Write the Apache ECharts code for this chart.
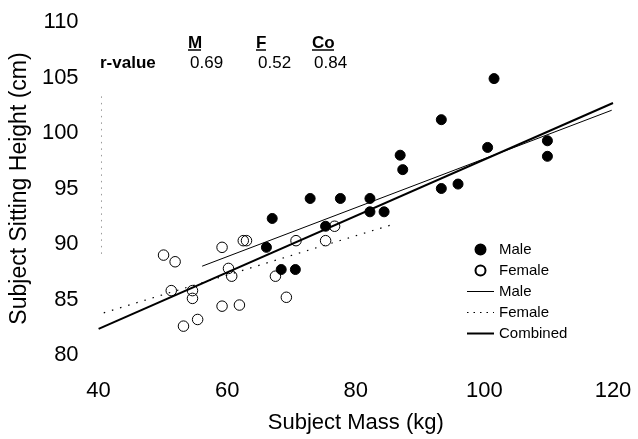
<!DOCTYPE html>
<html>
<head>
<meta charset="utf-8">
<style>
  html, body { margin: 0; padding: 0; background: #fff; }
  #chart { width: 638px; height: 439px; }
</style>
<script src="https://cdn.jsdelivr.net/npm/echarts@6/dist/echarts.min.js"></script>
</head>
<body>
<div id="chart"></div>
<script>
// ---- Data ----
const maleMass   = [67.0, 72.9, 77.6, 82.2, 82.2, 84.4, 86.9, 87.3, 93.3, 93.3, 95.9, 100.5, 101.5, 109.8, 109.8, 75.3, 66.1, 68.4, 70.6];
const maleHeight = [92.3, 94.1, 94.1, 94.1, 92.9, 92.9, 98.0, 96.7, 101.2, 95.0, 95.4, 98.7, 104.9, 99.3, 97.9, 91.6, 89.7, 87.7, 87.7];

const femaleMass   = [50.1, 51.9, 59.2, 62.5, 63.0, 60.2, 60.7, 70.7, 76.7, 75.3, 67.5, 69.2, 51.3, 54.6, 54.6, 59.2, 61.9, 55.4, 53.2];
const femaleHeight = [89.0, 88.4, 89.7, 90.3, 90.3, 87.8, 87.1, 90.3, 91.6, 90.3, 87.1, 85.2, 85.8, 85.8, 85.1, 84.4, 84.5, 83.2, 82.6];

// regression line end points [mass, height]
const maleFit     = [[56.1, 88.0], [119.8, 102.05]];
const femaleFit   = [[40.8, 83.8], [85.4, 91.7]];
const combinedFit = [[40.0, 82.35], [120.0, 102.7]];

// faint dotted vertical artifact near the y axis
const artifactLine = [[40.45, 103.3], [40.45, 89.0]];

const xTicks = { min: 40, max: 120, interval: 20 };
const yTicks = { min: 80, max: 110, interval: 5 };

const rLabels = ['M', 'F', 'Co'];
const rValues = ['0.69', '0.52', '0.84'];

const legendNames = ['Male', 'Female', 'Male\u200b', 'Female\u200b', 'Combined'];

// ---- Chart ----
const zip = (a, b) => a.map((v, i) => [v, b[i]]);
const FONT = '"Liberation Sans", Arial, sans-serif';

const chart = echarts.init(document.getElementById('chart'), null, { renderer: 'canvas' });

const rX = [188, 256, 312];     // pixel x for r-value columns
const graphics = [
  { type: 'text', x: 100, y: 55, style: { text: 'r-value', font: 'bold 17px ' + FONT, fill: '#000' } }
];
rLabels.forEach((lab, i) => {
  graphics.push({ type: 'text', x: rX[i], y: 35, style: { text: lab, font: 'bold 17px ' + FONT, fill: '#000' } });
  graphics.push({ type: 'text', x: rX[i] + 2, y: 55, style: { text: rValues[i], font: '17px ' + FONT, fill: '#000' } });
});
const ulW = [13, 10, 22];
rLabels.forEach((lab, i) => {
  graphics.push({ type: 'line', shape: { x1: rX[i], y1: 50, x2: rX[i] + ulW[i], y2: 50 }, style: { stroke: '#000', lineWidth: 1.5 } });
});

const hiddenSymbol = { opacity: 0 };

const option = {
  backgroundColor: '#fff',
  animation: false,
  grid: { left: 95, right: 25, top: 22, bottom: 82, containLabel: false },
  xAxis: {
    type: 'value', min: xTicks.min, max: xTicks.max, interval: xTicks.interval,
    name: 'Subject Mass (kg)', nameLocation: 'middle', nameGap: 57,
    nameTextStyle: { fontFamily: FONT, fontSize: 22, color: '#000' },
    axisLine: { show: false }, axisTick: { show: false }, splitLine: { show: false },
    axisLabel: { fontFamily: FONT, fontSize: 22, color: '#000', margin: 25 }
  },
  yAxis: {
    type: 'value', min: yTicks.min, max: yTicks.max, interval: yTicks.interval,
    name: 'Subject Sitting Height (cm)', nameLocation: 'middle', nameGap: 57,
    nameTextStyle: { fontFamily: FONT, fontSize: 23, color: '#000' },
    axisLine: { show: false }, axisTick: { show: false }, splitLine: { show: false },
    axisLabel: { fontFamily: FONT, fontSize: 22, color: '#000', margin: 20 }
  },
  legend: {
    orient: 'vertical', left: 461, top: 237,
    itemWidth: 27, itemHeight: 10, itemGap: 6,
    data: [
      { name: legendNames[0] },
      { name: legendNames[1] },
      { name: legendNames[2], itemStyle: hiddenSymbol, lineStyle: { width: 1 } },
      { name: legendNames[3], itemStyle: hiddenSymbol, lineStyle: { width: 1.2, type: [1.5, 5] } },
      { name: legendNames[4], itemStyle: hiddenSymbol, lineStyle: { width: 2 } }
    ],
    textStyle: { fontFamily: FONT, fontSize: 15, color: '#000' },
    selectedMode: false
  },
  graphic: graphics,
  series: [
    {
      name: legendNames[0], type: 'scatter', data: zip(maleMass, maleHeight),
      symbol: 'circle', symbolSize: 10, z: 5,
      itemStyle: { color: '#000', borderColor: '#000', borderWidth: 1, opacity: 1 }
    },
    {
      name: legendNames[1], type: 'scatter', data: zip(femaleMass, femaleHeight),
      symbol: 'circle', symbolSize: 10.5, z: 5,
      itemStyle: { color: 'rgba(255,255,255,0)', borderColor: '#000', borderWidth: 1, opacity: 1 }
    },
    {
      name: legendNames[2], type: 'line', data: maleFit, symbol: 'none', z: 3,
      itemStyle: { color: '#000' },
      lineStyle: { color: '#000', width: 1 }
    },
    {
      name: legendNames[3], type: 'line', data: femaleFit, symbol: 'none', z: 3,
      itemStyle: { color: '#000' },
      lineStyle: { color: '#000', width: 1.2, type: [1.5, 7] }
    },
    {
      name: legendNames[4], type: 'line', data: combinedFit, symbol: 'none', z: 3,
      itemStyle: { color: '#000' },
      lineStyle: { color: '#000', width: 2 }
    },
    {
      name: 'artifact', type: 'line', data: artifactLine, symbol: 'none', z: 1, silent: true,
      lineStyle: { color: '#999', width: 1, type: [1.5, 5] }
    }
  ]
};
chart.setOption(option);
</script>
</body>
</html>
